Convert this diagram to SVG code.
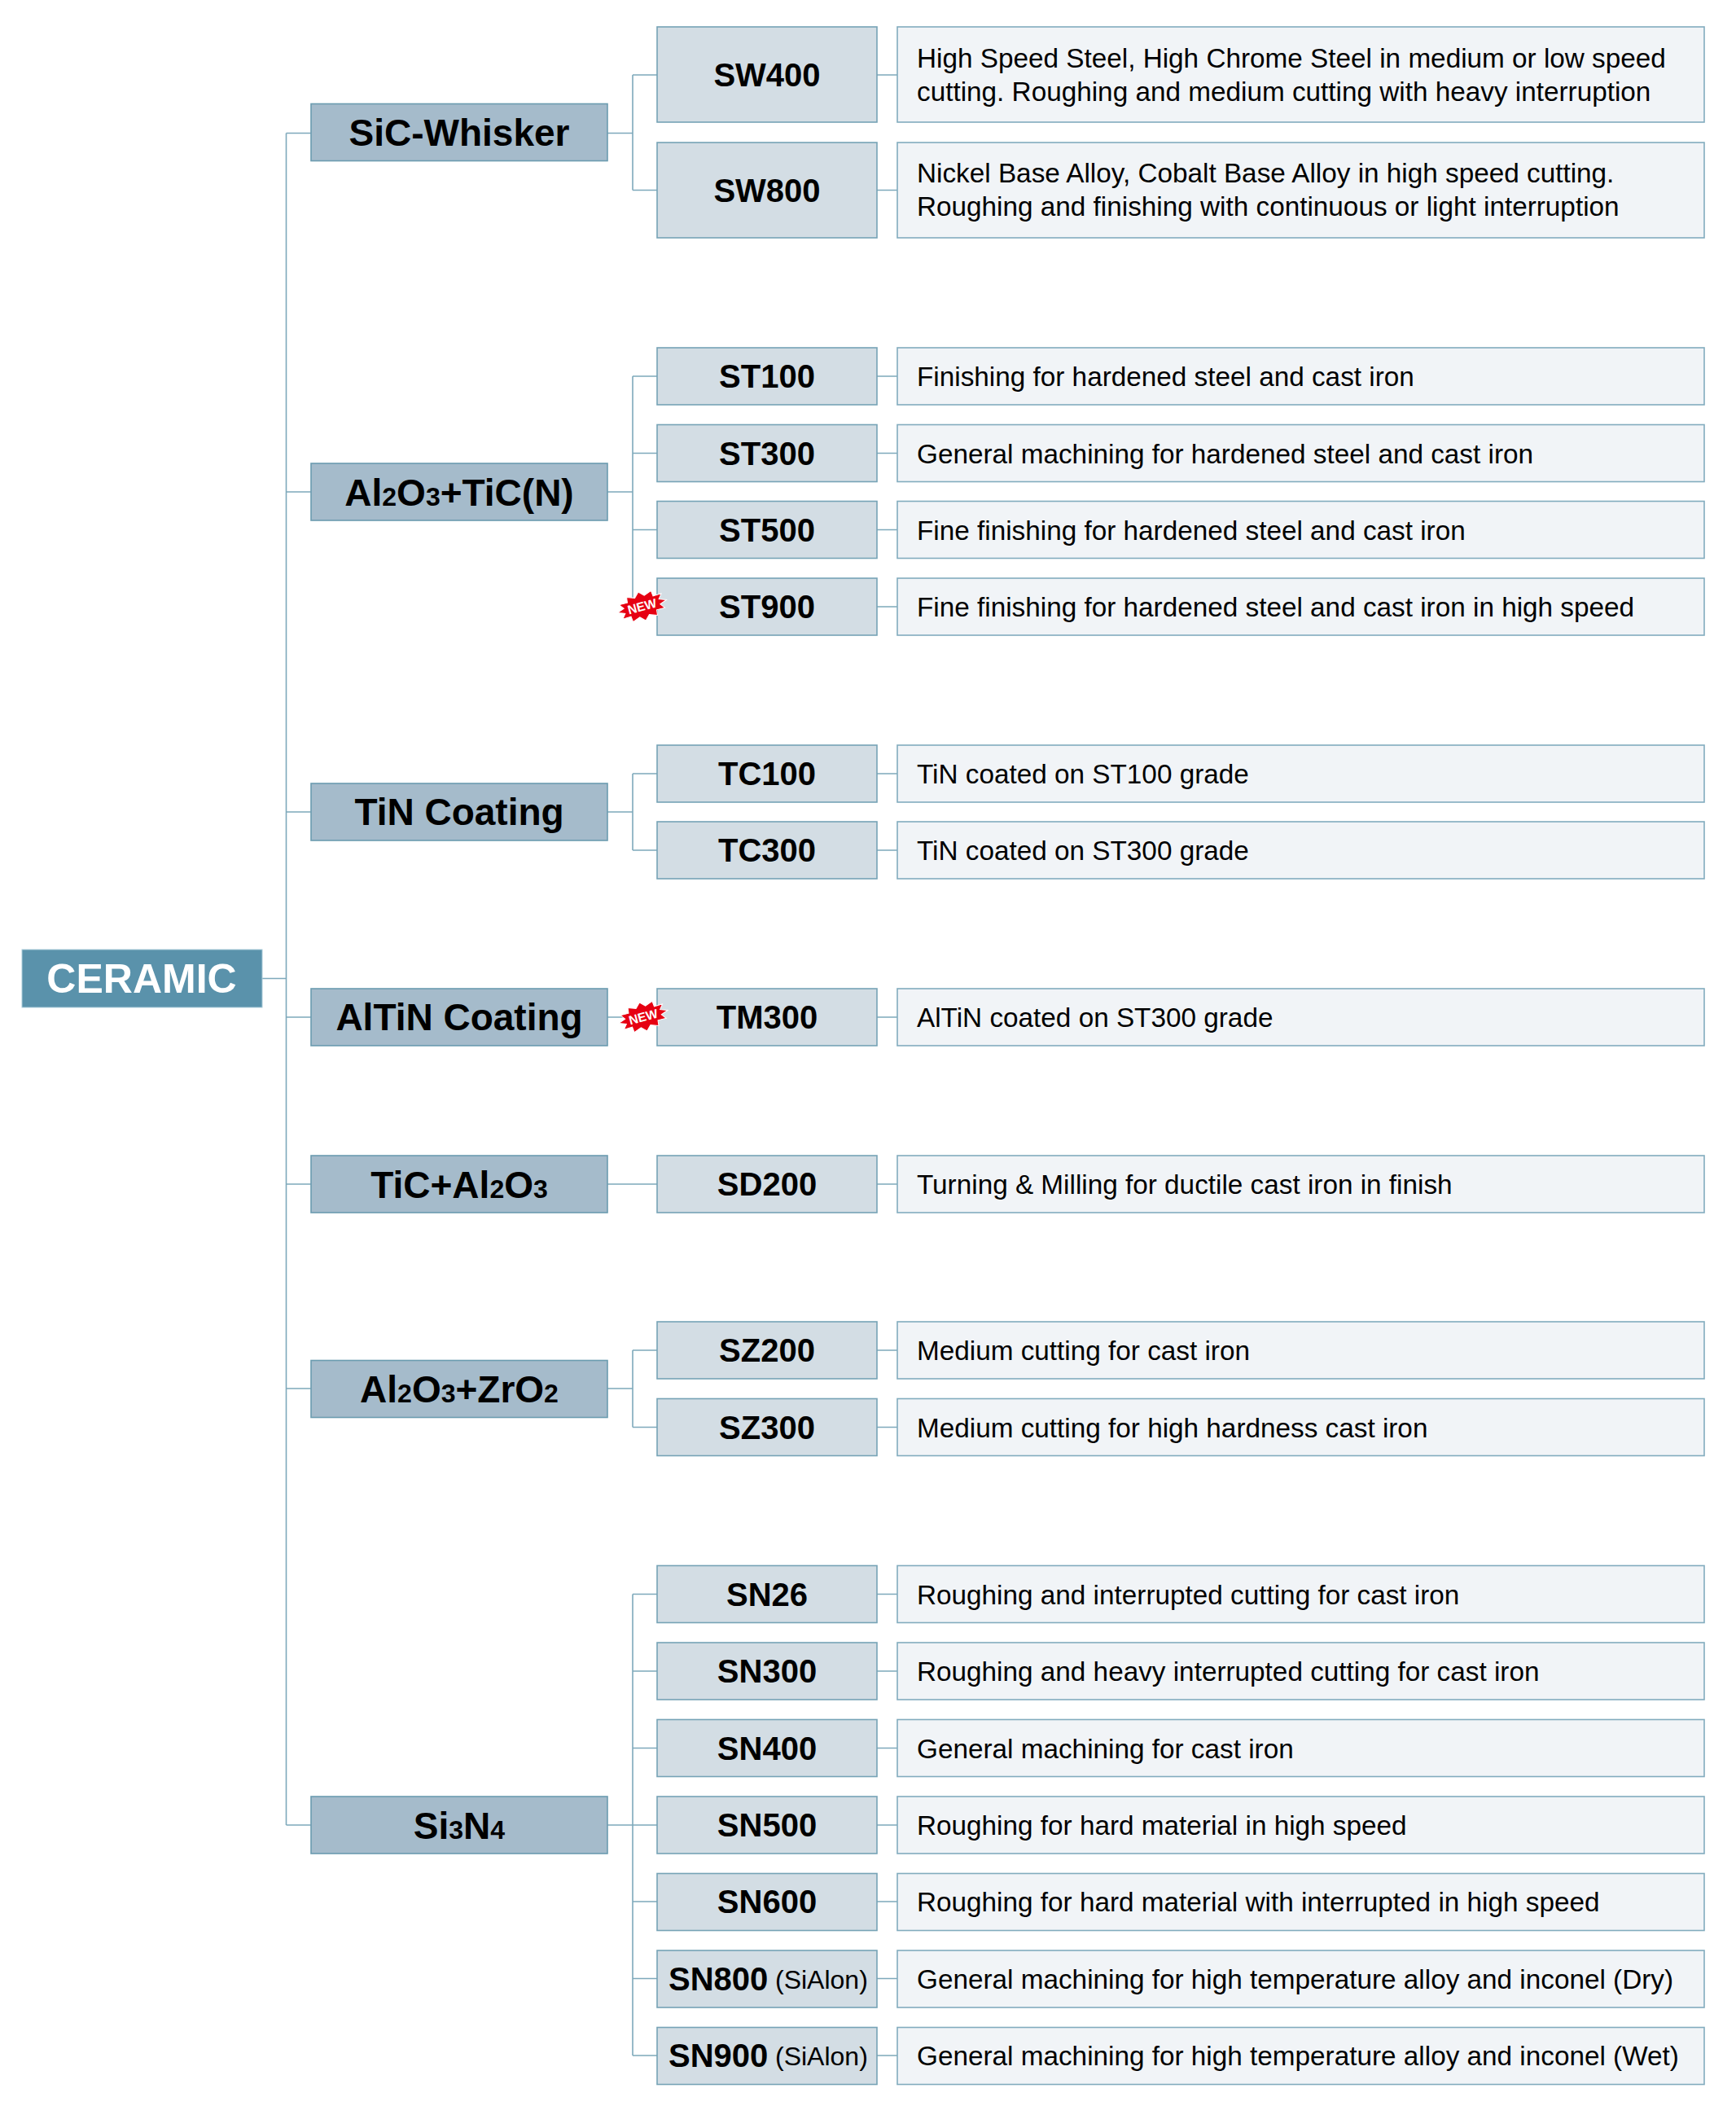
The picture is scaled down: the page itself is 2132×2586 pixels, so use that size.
<svg xmlns="http://www.w3.org/2000/svg" width="2132" height="2586" viewBox="0 0 2132 2586">
<style>
text{font-family:"Liberation Sans",Arial,sans-serif;fill:#000}
.root rect{fill:#5a92ab;stroke:#a9cbd9;stroke-width:1}
.root text{fill:#fff;font-weight:700;font-size:50px;text-anchor:middle}
.cat rect{fill:#a5bbcb;stroke:#6b9cb0;stroke-width:1.6}
.cat text{font-weight:700;font-size:46px;text-anchor:middle}
.cat tspan{font-size:32px}
.sub rect{fill:#d3dde4;stroke:#76a3b6;stroke-width:1.6}
.sub text{font-weight:700;font-size:40px;text-anchor:middle}
.sub text.st{text-anchor:start}
.sub .paren{font-weight:400;font-size:32px}
.desc rect{fill:#f1f4f7;stroke:#82acbe;stroke-width:1.6}
.desc text{font-size:33.3px}
#connectors path{fill:none;stroke:#7ea9bb;stroke-width:1.6}
.star{fill:#e60012;stroke:#fff;stroke-width:1}
.new{fill:#fff;font-weight:700;font-size:15.5px;text-anchor:middle}
</style>
<defs>
<polygon id="burst" class="star" points="31,0 22.2,3.2 26.8,9 16.3,8.8 15.5,15.6 6,12.1 0,18 -6,12.1 -15.5,15.6 -16.3,8.8 -26.8,9 -22.2,3.2 -31,0 -22.2,-3.2 -26.8,-9 -16.3,-8.8 -15.5,-15.6 -6,-12.1 0,-18 6,-12.1 15.5,-15.6 16.3,-8.8 26.8,-9 22.2,-3.2"/>
</defs>
<g id="connectors">
<path d="M322 1201.5H351.5M351.5 163.5V2241M351.5 163.5H382M351.5 604H382M351.5 997H382M351.5 1249H382M351.5 1454H382M351.5 1705H382M351.5 2241H382"/>
<path d="M746 163.5H777M777 92V233.5M777 92H807M777 233.5H807M1077 92H1102M1077 233.5H1102"/>
<path d="M746 604H777M777 462V745M777 462H807M777 556.5H807M777 650.5H807M777 745H807M1077 462H1102M1077 556.5H1102M1077 650.5H1102M1077 745H1102"/>
<path d="M746 997H777M777 950V1044M777 950H807M777 1044H807M1077 950H1102M1077 1044H1102"/>
<path d="M746 1249H807M1077 1249H1102"/>
<path d="M746 1454H807M1077 1454H1102"/>
<path d="M746 1705H777M777 1658V1752.5M777 1658H807M777 1752.5H807M1077 1658H1102M1077 1752.5H1102"/>
<path d="M746 2241H807M777 1957.5V2524M777 1957.5H807M777 2052H807M777 2146.5H807M777 2335H807M777 2429.5H807M777 2524H807M1077 1957.5H1102M1077 2052H1102M1077 2146.5H1102M1077 2241H1102M1077 2335H1102M1077 2429.5H1102M1077 2524H1102"/>
</g>
<g id="ceramic" class="root"><rect x="27" y="1166" width="295" height="71"/><text x="174" y="1219">CERAMIC</text></g>

<g id="cat-sic" class="cat"><rect x="382" y="127.5" width="364" height="70"/><text x="564" y="179">SiC-Whisker</text></g>
<g id="cat-al2o3-tic" class="cat"><rect x="382" y="569" width="364" height="70"/><text x="564" y="621">Al<tspan>2</tspan>O<tspan>3</tspan>+TiC(N)</text></g>
<g id="cat-tin" class="cat"><rect x="382" y="962" width="364" height="70"/><text x="564" y="1013">TiN Coating</text></g>
<g id="cat-altin" class="cat"><rect x="382" y="1214" width="364" height="70"/><text x="564" y="1265">AlTiN Coating</text></g>
<g id="cat-tic-al2o3" class="cat"><rect x="382" y="1419" width="364" height="70"/><text x="564" y="1471">TiC+Al<tspan>2</tspan>O<tspan>3</tspan></text></g>
<g id="cat-al2o3-zro2" class="cat"><rect x="382" y="1670.5" width="364" height="70"/><text x="564" y="1722">Al<tspan>2</tspan>O<tspan>3</tspan>+ZrO<tspan>2</tspan></text></g>
<g id="cat-si3n4" class="cat"><rect x="382" y="2206" width="364" height="70"/><text x="564" y="2258">Si<tspan>3</tspan>N<tspan>4</tspan></text></g>

<g id="sw400" class="sub"><rect x="807" y="33" width="270" height="117"/><text x="942" y="106">SW400</text></g>
<g id="sw400-desc" class="desc"><rect x="1102" y="33" width="991" height="117"/><text x="1126" y="83">High Speed Steel, High Chrome Steel in medium or low speed</text><text x="1126" y="124">cutting. Roughing and medium cutting with heavy interruption</text></g>
<g id="sw800" class="sub"><rect x="807" y="175" width="270" height="117"/><text x="942" y="248">SW800</text></g>
<g id="sw800-desc" class="desc"><rect x="1102" y="175" width="991" height="117"/><text x="1126" y="224">Nickel Base Alloy, Cobalt Base Alloy in high speed cutting.</text><text x="1126" y="265">Roughing and finishing with continuous or light interruption</text></g>

<g id="st100" class="sub"><rect x="807" y="427" width="270" height="70"/><text x="942" y="476">ST100</text></g>
<g id="st100-desc" class="desc"><rect x="1102" y="427" width="991" height="70"/><text x="1126" y="474">Finishing for hardened steel and cast iron</text></g>
<g id="st300" class="sub"><rect x="807" y="521.5" width="270" height="70"/><text x="942" y="571">ST300</text></g>
<g id="st300-desc" class="desc"><rect x="1102" y="521.5" width="991" height="70"/><text x="1126" y="568.5">General machining for hardened steel and cast iron</text></g>
<g id="st500" class="sub"><rect x="807" y="615.5" width="270" height="70"/><text x="942" y="665">ST500</text></g>
<g id="st500-desc" class="desc"><rect x="1102" y="615.5" width="991" height="70"/><text x="1126" y="662.5">Fine finishing for hardened steel and cast iron</text></g>
<g id="st900" class="sub"><rect x="807" y="710" width="270" height="70"/><text x="942" y="759">ST900</text></g>
<g id="st900-desc" class="desc"><rect x="1102" y="710" width="991" height="70"/><text x="1126" y="757">Fine finishing for hardened steel and cast iron in high speed</text></g>

<g id="tc100" class="sub"><rect x="807" y="915" width="270" height="70"/><text x="942" y="964">TC100</text></g>
<g id="tc100-desc" class="desc"><rect x="1102" y="915" width="991" height="70"/><text x="1126" y="962">TiN coated on ST100 grade</text></g>
<g id="tc300" class="sub"><rect x="807" y="1009" width="270" height="70"/><text x="942" y="1058">TC300</text></g>
<g id="tc300-desc" class="desc"><rect x="1102" y="1009" width="991" height="70"/><text x="1126" y="1056">TiN coated on ST300 grade</text></g>

<g id="tm300" class="sub"><rect x="807" y="1214" width="270" height="70"/><text x="942" y="1263">TM300</text></g>
<g id="tm300-desc" class="desc"><rect x="1102" y="1214" width="991" height="70"/><text x="1126" y="1261">AlTiN coated on ST300 grade</text></g>

<g id="sd200" class="sub"><rect x="807" y="1419" width="270" height="70"/><text x="942" y="1468">SD200</text></g>
<g id="sd200-desc" class="desc"><rect x="1102" y="1419" width="991" height="70"/><text x="1126" y="1466">Turning &amp; Milling for ductile cast iron in finish</text></g>

<g id="sz200" class="sub"><rect x="807" y="1623" width="270" height="70"/><text x="942" y="1672">SZ200</text></g>
<g id="sz200-desc" class="desc"><rect x="1102" y="1623" width="991" height="70"/><text x="1126" y="1670">Medium cutting for cast iron</text></g>
<g id="sz300" class="sub"><rect x="807" y="1717.5" width="270" height="70"/><text x="942" y="1767">SZ300</text></g>
<g id="sz300-desc" class="desc"><rect x="1102" y="1717.5" width="991" height="70"/><text x="1126" y="1764.5">Medium cutting for high hardness cast iron</text></g>

<g id="sn26" class="sub"><rect x="807" y="1922.5" width="270" height="70"/><text x="942" y="1972">SN26</text></g>
<g id="sn26-desc" class="desc"><rect x="1102" y="1922.5" width="991" height="70"/><text x="1126" y="1969.5">Roughing and interrupted cutting for cast iron</text></g>
<g id="sn300" class="sub"><rect x="807" y="2017" width="270" height="70"/><text x="942" y="2066">SN300</text></g>
<g id="sn300-desc" class="desc"><rect x="1102" y="2017" width="991" height="70"/><text x="1126" y="2064">Roughing and heavy interrupted cutting for cast iron</text></g>
<g id="sn400" class="sub"><rect x="807" y="2111.5" width="270" height="70"/><text x="942" y="2160.5">SN400</text></g>
<g id="sn400-desc" class="desc"><rect x="1102" y="2111.5" width="991" height="70"/><text x="1126" y="2158.5">General machining for cast iron</text></g>
<g id="sn500" class="sub"><rect x="807" y="2206" width="270" height="70"/><text x="942" y="2255">SN500</text></g>
<g id="sn500-desc" class="desc"><rect x="1102" y="2206" width="991" height="70"/><text x="1126" y="2253">Roughing for hard material in high speed</text></g>
<g id="sn600" class="sub"><rect x="807" y="2300.5" width="270" height="70"/><text x="942" y="2349">SN600</text></g>
<g id="sn600-desc" class="desc"><rect x="1102" y="2300.5" width="991" height="70"/><text x="1126" y="2347">Roughing for hard material with interrupted in high speed</text></g>
<g id="sn800" class="sub"><rect x="807" y="2395" width="270" height="70"/><text class="st" x="821" y="2444">SN800</text><text class="st paren" x="952" y="2442">(SiAlon)</text></g>
<g id="sn800-desc" class="desc"><rect x="1102" y="2395" width="991" height="70"/><text x="1126" y="2442">General machining for high temperature alloy and inconel (Dry)</text></g>
<g id="sn900" class="sub"><rect x="807" y="2489.5" width="270" height="70"/><text class="st" x="821" y="2538">SN900</text><text class="st paren" x="952" y="2536">(SiAlon)</text></g>
<g id="sn900-desc" class="desc"><rect x="1102" y="2489.5" width="991" height="70"/><text x="1126" y="2536">General machining for high temperature alloy and inconel (Wet)</text></g>

<g id="new-st900" transform="translate(788.5,744.5) rotate(-15)"><use href="#burst"/><text class="new" x="0" y="5.5">NEW</text></g>
<g id="new-tm300" transform="translate(790,1248.5) rotate(-15)"><use href="#burst"/><text class="new" x="0" y="5.5">NEW</text></g>
</svg>
